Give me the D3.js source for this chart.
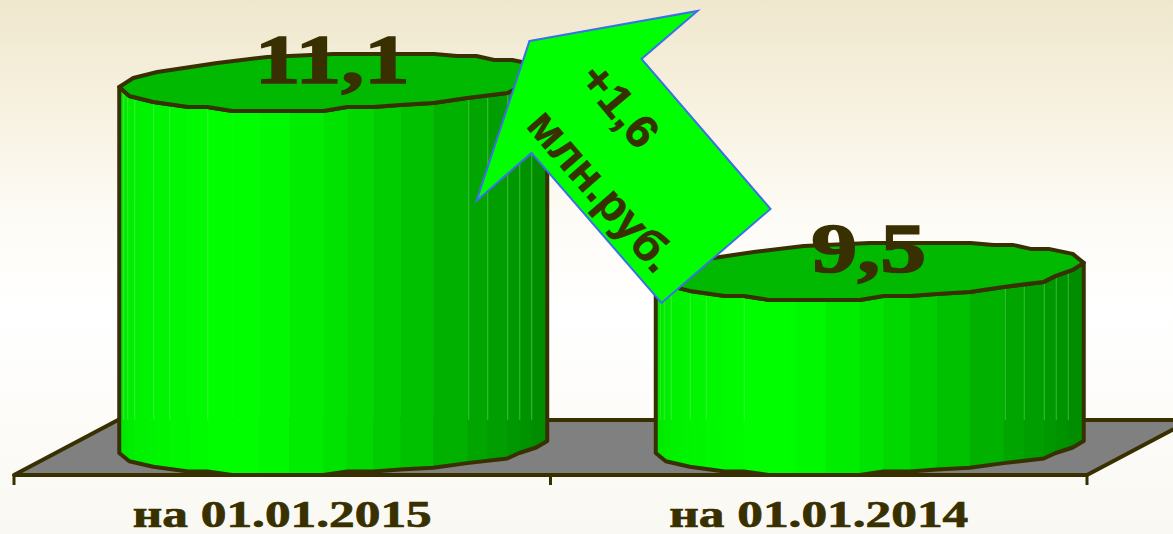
<!DOCTYPE html>
<html><head><meta charset="utf-8">
<script src="https://cdn.jsdelivr.net/npm/d3@7/dist/d3.min.js"></script>
<style>html,body{margin:0;padding:0;background:#fff;overflow:hidden}svg{display:block}
.serif{font-family:"Liberation Serif","Times New Roman",serif;font-weight:700}
.sans{font-family:"Liberation Sans",Arial,sans-serif;font-weight:700}</style>
</head><body><svg id="c" width="1173" height="534"></svg>
<script>
const categories = ["на 01.01.2015", "на 01.01.2014"];
const values = [11.1, 9.5];
const valueLabels = ["11,1", "9,5"];
const arrowLines = ["+1,6", "млн.руб."];

const W = 1173, H = 534, INK = "#383000";
const svg = d3.select("#c");
const defs = svg.append("defs");
const bg = defs.append("linearGradient").attr("id","bg").attr("x1",0).attr("x2",0).attr("y1",0).attr("y2",1);
[[0,"#efe7cd"],[0.2,"#f7f1e0"],[0.4,"#fdfbf5"],[0.58,"#ffffff"],[1,"#faf8f2"]].forEach(d=>bg.append("stop").attr("offset",d[0]).attr("stop-color",d[1]));
svg.append("rect").attr("width",W).attr("height",H).attr("fill","url(#bg)");

// scales
const x = d3.scaleBand().domain(categories).range([14,1087]);
const y = d3.scaleLinear().domain([8,11.1]).range([453,87]);
const depth = 104, floorFront = 475, floorBack = 420, bodyW = 428, depthShift = 51;
const left = c => x(c) + x.bandwidth()/2 + depthShift - bodyW/2;

// floor
svg.append("path")
  .attr("d",d3.line()([[x.range()[0],floorFront],[x.range()[0]+depth,floorBack],[x.range()[1]+depth,floorBack],[x.range()[1],floorFront]])+"Z")
  .attr("fill","#808080").attr("stroke",INK).attr("stroke-width",4).attr("stroke-linejoin","round");

// axis
const axis = d3.axisBottom(x).tickSize(0).tickPadding(31);
const axG = svg.append("g").attr("transform",`translate(0,${floorFront})`).call(axis);
axG.select(".domain").remove();
axG.selectAll("text").attr("class","serif").attr("fill",INK).attr("stroke",INK).attr("stroke-width",0.7).style("font-size","38px")
   .attr("textLength",299).attr("lengthAdjust","spacingAndGlyphs")
   .attr("dy","0.56em");
[x.range()[0], x(categories[1]), x.range()[1]].forEach(t=>
  svg.append("line").attr("x1",t).attr("x2",t).attr("y1",floorFront).attr("y2",floorFront+10).attr("stroke",INK).attr("stroke-width",3));

// cylinder outline shape, offsets from the left point of the top face
const frontEdge = [[0,0],[10,9],[34,15],[69,20],[88,20],[113,24],[204,24],[228,20],[254,20],[281,18],[314,16],[348,11],[388,6],[400,0],[417,-6],[428,-13]];
const backEdge = [[428,-13],[417,-22],[393,-27],[375,-27],[357,-31],[338,-31],[315,-33],[214,-33],[148,-30],[98,-24],[38,-15],[14,-9],[0,0]];
const facetBreaks = [0,4,8,15,26,34,50,69,88,113,140,170,204,228,254,281,314,348,368,388,400,412,428];
const hairlines = [4,8,15,34,50,88,349,368,388,400,412];
const facetColor = d3.scaleLinear().domain([0,20,110,160,240,300,350,400,428])
  .range(["#00e800","#00f200","#00ff00","#00f800","#00d800","#00c000","#00a800","#009600","#008a00"]);

values.forEach((v,i)=>{
  const c = categories[i], x0 = left(c), yTop = y(v), yBase = y.range()[0];
  const g = svg.append("g").attr("transform",`translate(${x0},${yTop})`);
  const h = yBase - yTop;
  const line = d3.line();
  const bottom = frontEdge.map(p=>[p[0],p[1]*0.92+h]).reverse();
  const body = line(frontEdge.slice()) + "L" + bottom.map(p=>p.join(",")).join("L") + "Z";
  defs.append("clipPath").attr("id","b"+i).append("path").attr("d",body);
  const fg = g.append("g").attr("clip-path",`url(#b${i})`);
  fg.selectAll("rect").data(d3.pairs(facetBreaks)).join("rect")
    .attr("x",d=>d[0]).attr("width",d=>d[1]-d[0]+0.6)
    .attr("y",-20).attr("height",h+60)
    .attr("fill",d=>facetColor((d[0]+d[1])/2));
  fg.selectAll("line").data(hairlines).join("line")
    .attr("x1",d=>d+.5).attr("x2",d=>d+.5).attr("y1",-20).attr("y2",floorBack-yTop)
    .attr("stroke","#66ee66").attr("stroke-opacity",.5).attr("stroke-width",1);
  g.append("path").attr("d",body).attr("fill","none").attr("stroke",INK).attr("stroke-width",4).attr("stroke-linejoin","round");
  g.append("path").attr("d",line(frontEdge.concat(backEdge))+"Z")
    .attr("fill","#00b900").attr("stroke",INK).attr("stroke-width",4).attr("stroke-linejoin","round");
});

// value labels
const labelDrop = [-4, -4], labelWidth = [155, 115];
values.forEach((v,i)=>{
  svg.append("text").text(valueLabels[i]).attr("class","serif")
    .attr("x",x(categories[i])+x.bandwidth()/2+depthShift-1)
    .attr("y",y(v)+labelDrop[i])
    .attr("text-anchor","middle").attr("fill",INK).attr("stroke",INK).attr("stroke-width",1.6).style("font-size","69px")
    .attr("textLength",labelWidth[i]).attr("lengthAdjust","spacingAndGlyphs");
});

// difference arrow, offsets from the middle tick and the lower column top
const arrowShape = [[-21,-235],[147,-265],[91,-217],[220,-67],[111,27],[-19,-123],[-74,-75]];
const ax = x(categories[1]), ay = y(values[1]);
const arrow = svg.append("g").attr("transform",`translate(${ax},${ay})`);
arrow.append("path").attr("d",d3.line()(arrowShape)+"Z").attr("fill","#00ff00").attr("stroke","#3d6fe8").attr("stroke-width",2).attr("stroke-linejoin","miter");
const arrowText = [{t:arrowLines[0],x:70,y:-171,len:94,a:50},{t:arrowLines[1],x:52,y:-86,len:198,a:49}];
arrowText.forEach(d=>{
  arrow.append("text").text(d.t).attr("class","sans").attr("transform",`translate(${d.x},${d.y}) rotate(${d.a})`)
    .attr("text-anchor","middle").attr("dy","0.36em").attr("fill",INK).attr("stroke",INK).attr("stroke-width",0.6).style("font-size","46px")
    .attr("textLength",d.len).attr("lengthAdjust","spacingAndGlyphs");
});
</script></body></html>
